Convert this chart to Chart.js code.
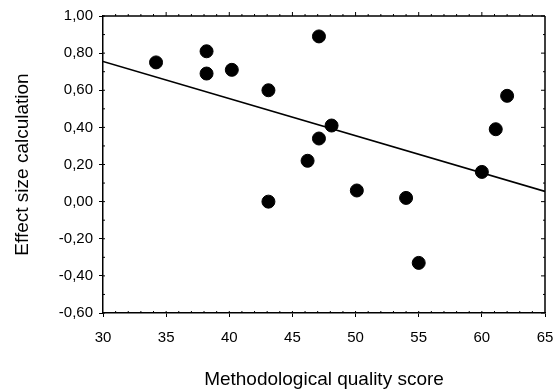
<!DOCTYPE html>
<html>
<head>
<meta charset="utf-8">
<script src="https://cdn.jsdelivr.net/npm/chart.js@4/dist/chart.umd.min.js"></script>
<style>
  html, body { margin: 0; padding: 0; background: #fff; }
  #wrap { width: 554px; height: 392px; }
</style>
</head>
<body>
<div id="wrap"><canvas id="chart" width="554" height="392"></canvas></div>
<script>
// study points
const scoreX = [34.2, 38.2, 38.2, 40.2, 43.1, 43.1, 47.1, 47.1, 48.1, 46.2, 50.1, 54.0, 55.0, 60.0, 61.1, 62.0];
const effectY = [0.75, 0.81, 0.69, 0.71, 0.60, 0.00, 0.89, 0.34, 0.41, 0.22, 0.06, 0.02, -0.33, 0.16, 0.39, 0.57];

// regression line end points
const fitX = [30, 65];
const fitY = [0.755, 0.055];

const xTicks = [30, 35, 40, 45, 50, 55, 60, 65];
const yTicks = [-0.6, -0.4, -0.2, 0, 0.2, 0.4, 0.6, 0.8, 1.0];

const fmt = v => (Math.abs(v) < 1e-9 ? 0 : v).toFixed(2).replace('.', ',');

// box round the plot plus the small minor ticks
const frame = {
  id: 'frame',
  afterDraw(chart) {
    const { ctx, chartArea: a, scales: { x, y } } = chart;
    ctx.save();
    ctx.strokeStyle = '#000';
    ctx.lineWidth = 1.5;
    ctx.beginPath();
    ctx.moveTo(a.left, a.top); ctx.lineTo(a.right, a.top);
    ctx.moveTo(a.right, a.top); ctx.lineTo(a.right, a.bottom);
    ctx.stroke();
    ctx.lineWidth = 1;
    ctx.beginPath();
    for (let v = 31; v < 65; v++) {
      const px = x.getPixelForValue(v);
      const len = v % 5 === 0 ? 4 : 2;
      ctx.moveTo(px, a.top); ctx.lineTo(px, a.top - len);
      ctx.moveTo(px, a.bottom); ctx.lineTo(px, a.bottom - 2);
    }
    for (let i = 0; i <= 16; i++) {
      const py = y.getPixelForValue(-0.6 + i * 0.1);
      const len = i % 2 === 0 ? 4 : 2;
      ctx.moveTo(a.right, py); ctx.lineTo(a.right - len, py);
      ctx.moveTo(a.left, py); ctx.lineTo(a.left + 2, py);
    }
    ctx.stroke();
    ctx.restore();
  }
};

new Chart(document.getElementById('chart'), {
  type: 'scatter',
  data: {
    datasets: [
      {
        label: 'Studies',
        data: scoreX.map((s, i) => ({ x: s, y: effectY[i] })),
        backgroundColor: '#000',
        borderColor: '#000',
        pointRadius: 6.5,
        pointHoverRadius: 6.5,
      },
      {
        label: 'Fit',
        type: 'line',
        data: fitX.map((s, i) => ({ x: s, y: fitY[i] })),
        borderColor: '#000',
        borderWidth: 1.6,
        pointRadius: 0,
        fill: false,
      },
    ],
  },
  options: {
    responsive: false,
    animation: false,
    events: [],
    layout: { padding: { top: 16, right: 0, left: 0, bottom: 0 } },
    plugins: { legend: { display: false }, tooltip: { enabled: false } },
    scales: {
      x: {
        type: 'linear',
        min: 30, max: 65,
        afterBuildTicks: s => { s.ticks = xTicks.map(v => ({ value: v })); },
        afterFit: s => { s.height = 79; s.paddingRight = 9; s.paddingLeft = 0; },
        ticks: { color: '#000', padding: 12, font: { family: 'Liberation Sans', size: 15 } },
        grid: { display: true, drawOnChartArea: false, drawTicks: true, tickLength: 4, color: '#000' },
        border: { display: true, color: '#000', width: 1.5 },
        title: {
          display: true,
          text: 'Methodological quality score',
          color: '#000',
          font: { family: 'Liberation Sans', size: 19 },
          padding: { top: 0, bottom: 1 },
        },
      },
      y: {
        min: -0.6, max: 1.0,
        afterBuildTicks: s => { s.ticks = yTicks.map(v => ({ value: v })); },
        afterFit: s => { s.width = 103; },
        ticks: { color: '#000', padding: 6, callback: fmt, font: { family: 'Liberation Sans', size: 15 } },
        grid: { display: true, drawOnChartArea: false, drawTicks: true, tickLength: 4, color: '#000' },
        border: { display: true, color: '#000', width: 1.5 },
        title: {
          display: true,
          text: 'Effect size calculation',
          color: '#000',
          font: { family: 'Liberation Sans', size: 19 },
          padding: { top: 11, bottom: 0 },
        },
      },
    },
  },
  plugins: [frame],
});
</script>
</body>
</html>
